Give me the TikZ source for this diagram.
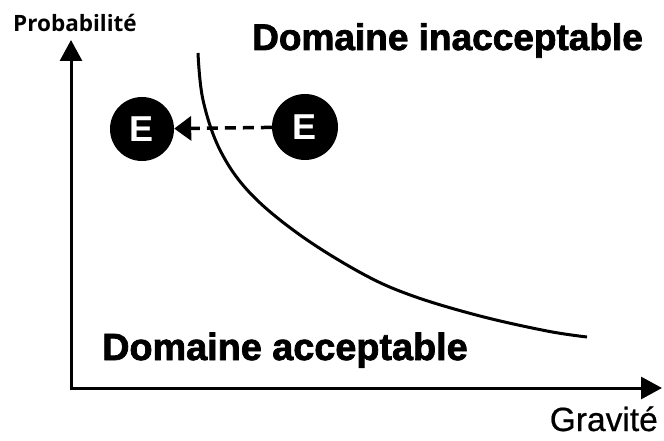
\documentclass[tikz,border=0pt]{standalone}
\usepackage{fontspec}
\setmainfont{Liberation Sans}
\newfontfamily\probfont{Open Sans}
\newfontfamily\heavyfont[FakeBold=2]{Liberation Sans Bold}
\newfontfamily\gravfont[FakeBold=0.6]{Liberation Sans}
\usetikzlibrary{arrows.meta}
\begin{document}
\begin{tikzpicture}[x=1pt,y=-1pt,
  axis/.style={line width=3pt,-{Triangle[length=21pt,width=22pt]}},
  evt/.style={circle,fill=black,minimum size=64pt,inner sep=0pt,text=white,
    font=\fontsize{36}{36}\selectfont\bfseries},
  bigtxt/.style={font=\heavyfont\fontsize{37}{40}\selectfont,inner sep=0pt,anchor=base west},
]
\path[use as bounding box] (0,0) rectangle (664,441);
\coordinate (O) at (71,388);
\coordinate (ytip) at (71,40);
\coordinate (xtip) at (662,388);
\draw[axis] (O) -- (ytip);
\draw[axis] ([xshift=-1.5pt]O) -- (xtip);
\node[anchor=base,inner sep=0pt,font=\probfont\fontsize{22.5}{24}\selectfont\bfseries] (prob) at (75,32) {Probabilité};
\node[anchor=base east,inner sep=0pt,font=\gravfont\fontsize{33.5}{34}\selectfont] (grav) at (658,431) {Gravité};
\node[bigtxt] (inacc) at (252,50) {Domaine inacceptable};
\node[bigtxt,font=\heavyfont\fontsize{37.8}{40}\selectfont] (acc) at (102,360) {Domaine acceptable};
\draw[line width=3pt] plot[smooth,tension=0.6] coordinates {(198,53) (203,100) (220,150) (250,193) (300,235) (363,274) (413,296) (480,316) (547,331) (587,337)};
\node[evt] (e1) at (142,129) {E};
\node[evt,minimum size=66pt] (e2) at (305,127) {E};
\draw[line width=3.5pt,dash pattern=on 11pt off 7pt,-{Triangle[length=17pt,width=24pt]}] (e2) -- (e1);
\end{tikzpicture}
\end{document}
